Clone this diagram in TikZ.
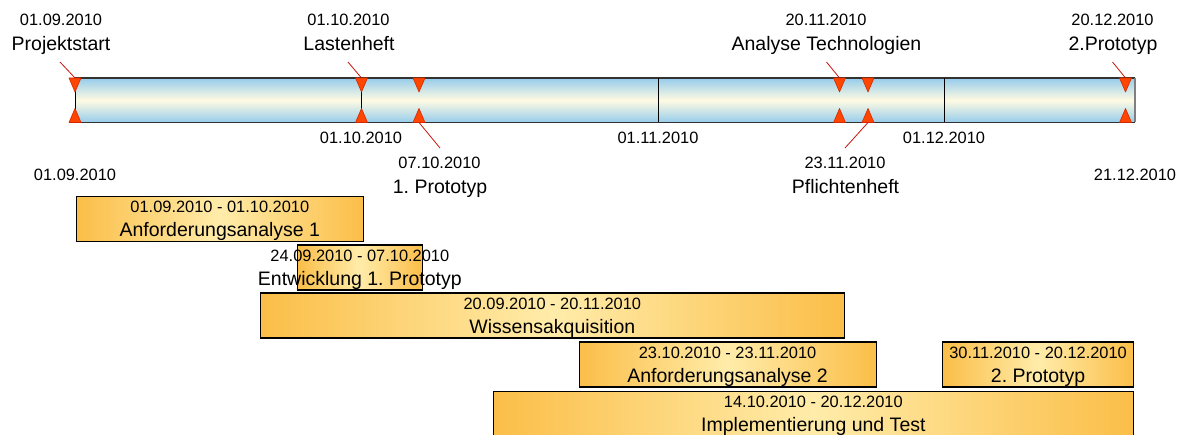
\documentclass[tikz,border=0pt]{standalone}
\usepackage{fontspec}
\setmainfont{Liberation Sans}
\usetikzlibrary{calc}
\frenchspacing
\definecolor{barblue}{RGB}{150,204,236}
\definecolor{barcream}{RGB}{255,251,226}
\definecolor{mileorange}{RGB}{255,70,0}
\definecolor{mileedge}{RGB}{214,40,0}
\definecolor{leadred}{RGB}{200,20,10}
\definecolor{taskedge}{RGB}{251,190,72}
\definecolor{tasklight}{RGB}{255,236,170}
\definecolor{frame}{RGB}{50,50,50}
\tikzset{
  datefont/.style={font=\fontsize{16.4}{18}\selectfont, inner sep=0pt, anchor=base},
  labelfont/.style={font=\fontsize{19.5}{22}\selectfont, inner sep=0pt, anchor=base},
  taskbox/.style={draw=black, line width=1.2pt, inner sep=0pt, anchor=north west,
    left color=taskedge, right color=taskedge, middle color=tasklight},
  milestone/.style={fill=mileorange, draw=mileedge, line width=0.6pt, line join=round},
  leader/.style={draw=leadred, line width=0.8pt},
  monthline/.style={draw=black, line width=1pt},
}
% one task bar: name, left x, right x, top y, period, title
\newcommand{\taskbar}[6]{%
  \node[taskbox, minimum width=#3-#2, minimum height=45] (#1) at (#2,#4) {};
  \node[datefont] (#1date) at ($(#1.north)+(0,16.6)$) {#5};
  \node[labelfont] (#1name) at ($(#1.north)+(0,41)$) {#6};
}
% a pair of milestone triangles on the time line at x
\newcommand{\milestones}[2]{%
  \path[milestone] (#2-6,78) -- (#2+6,78) -- (#2,92) -- cycle;
  \path[milestone] (#2-6,122.5) -- (#2+6,122.5) -- (#2,108.5) -- cycle;
  \coordinate (#1top) at (#2,78);
  \coordinate (#1bot) at (#2,122.5);
}
\begin{document}
\begin{tikzpicture}[x=1pt, y=-1pt]
\useasboundingbox (0,0) rectangle (1187,435);

% time line
\path[top color=barblue, bottom color=barblue, middle color=barcream]
  (75,78) rectangle (1135,122.5);
\draw[frame, line width=1.2pt] (75,78) -- (1135,78);
\draw[frame, line width=1.2pt] (75,122.5) -- (1135,122.5);
\draw[gray, line width=1.6pt] (1135,78) -- (1135,122.5);
\draw[monthline] (75,78) -- (75,122.5);
\draw[monthline] (361.5,78) -- (361.5,122.5);
\draw[monthline] (658,78) -- (658,122.5);
\draw[monthline] (944,78) -- (944,122.5);

% milestones
\milestones{ms1}{75}
\milestones{ms2}{361.5}
\milestones{ms3}{419}
\milestones{ms4}{839.5}
\milestones{ms5}{868}
\milestones{ms6}{1125.5}

% milestone captions above the line
\node[datefont] (d1) at (61,26) {01.09.2010};
\node[labelfont] (l1) at (61,50.5) {Projektstart};
\node[datefont] (d2) at (348.5,26) {01.10.2010};
\node[labelfont] (l2) at (349,50.5) {Lastenheft};
\node[datefont] (d4) at (826,26) {20.11.2010};
\node[labelfont] (l4) at (826.5,50.5) {Analyse Technologien};
\node[datefont] (d6) at (1112.5,26) {20.12.2010};
\node[labelfont] (l6) at (1113,50.5) {2.Prototyp};

% milestone captions below the line
\node[datefont] (d3) at (439.5,169) {07.10.2010};
\node[labelfont] (l3) at (440,193.5) {1. Prototyp};
\node[datefont] (d5) at (845,169) {23.11.2010};
\node[labelfont] (l5) at (845.5,193.5) {Pflichtenheft};

% leader lines
\coordinate (c1) at (60,62);
\coordinate (c2) at (348,62);
\coordinate (c3) at (440,148);
\coordinate (c4) at (826.5,62);
\coordinate (c5) at (845,148);
\coordinate (c6) at (1112.5,62);
\draw[leader] (c1) -- (ms1top);
\draw[leader] (c2) -- (ms2top);
\draw[leader] (c3) -- (ms3bot);
\draw[leader] (c4) -- (ms4top);
\draw[leader] (c5) -- (ms5bot);
\draw[leader] (c6) -- (ms6top);

% scale dates
\node[datefont] (s1) at (361,143.3) {01.10.2010};
\node[datefont] (s2) at (658,143.3) {01.11.2010};
\node[datefont] (s3) at (944,143.3) {01.12.2010};
\node[datefont] (s0) at (75,181) {01.09.2010};
\node[datefont] (s4) at (1135,181) {21.12.2010};

% task bars
\taskbar{t1}{76}{362.5}{196}{01.09.2010 - 01.10.2010}{Anforderungsanalyse 1}
\taskbar{t2}{297}{421.5}{244.5}{24.09.2010 - 07.10.2010}{Entwicklung 1. Prototyp}
\taskbar{t3}{260}{843.5}{292.5}{20.09.2010 - 20.11.2010}{Wissensakquisition}
\taskbar{t4}{578.5}{875.5}{341.5}{23.10.2010 - 23.11.2010}{Anforderungsanalyse 2}
\taskbar{t5}{942}{1133}{341.5}{30.11.2010 - 20.12.2010}{2. Prototyp}
\taskbar{t6}{492.5}{1133}{391}{14.10.2010 - 20.12.2010}{Implementierung und Test}
\end{tikzpicture}
\end{document}
